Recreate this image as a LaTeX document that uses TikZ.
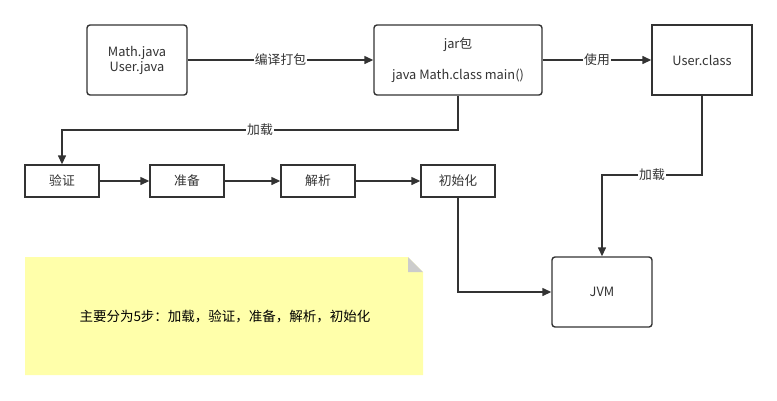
\documentclass[tikz,border=0pt]{standalone}
\usepackage{fontspec}
\setmainfont{Noto Sans CJK SC}
\usetikzlibrary{arrows.meta}
\definecolor{ln}{HTML}{333333}
\definecolor{notey}{HTML}{FFFFAA}
\definecolor{fold}{HTML}{CCCCCC}
\begin{document}
\begin{tikzpicture}[x=1pt,y=-1pt,
  every node/.style={font=\fontsize{12.8}{15}\selectfont, text=ln},
  rbox/.style={draw=ln, line width=1.4pt, rounded corners=3pt, fill=white, inner sep=0pt},
  sbox/.style={draw=ln, line width=1.4pt, fill=white, inner sep=0pt},
  conn/.style={draw=ln, line width=1.4pt, -{Triangle[length=9pt,width=8pt]}},
  lbl/.style={fill=white, inner sep=1pt, font=\fontsize{12.8}{14}\selectfont}]
\useasboundingbox (0,0) rectangle (777,400);
% note
\fill[notey] (25,257) -- (408,257) -- (423,272) -- (423,375) -- (25,375) -- cycle;
\fill[fold] (408,257) -- (423,272) -- (408,272) -- cycle;
\node[text=black, font=\fontsize{13.5}{14}\selectfont] (note) at (225,316) {主要分为5步：加载，验证，准备，解析，初始化};
% nodes
\node[rbox, minimum width=100pt, minimum height=70pt, align=center] (src) at (137,60) {Math.java\\User.java};
\node[rbox, minimum width=168pt, minimum height=70pt, align=center] (jar) at (458,60) {jar包\\[16pt]java Math.class main()};
\node[sbox, minimum width=100pt, minimum height=70pt] (user) at (702,60) {User.class};
\node[sbox, minimum width=74pt, minimum height=32pt] (v) at (62,181) {验证};
\node[sbox, minimum width=74pt, minimum height=32pt] (p) at (187,181) {准备};
\node[sbox, minimum width=74pt, minimum height=32pt] (r) at (318,181) {解析};
\node[sbox, minimum width=74pt, minimum height=32pt] (i) at (458,181) {初始化};
\node[rbox, minimum width=100pt, minimum height=70pt] (jvm) at (602,292) {JVM};
% connectors
\draw[conn] (src) -- node[lbl] {编译打包} (jar);
\draw[conn] (jar) -- node[lbl] {使用} (user);
\coordinate (a1) at (458,130);
\coordinate (a2) at (62,130);
\draw[conn] (jar.south) -- (a1) -- node[lbl, pos=0.5] {加载} (a2) -- (v.north);
\coordinate (b1) at (702,175);
\coordinate (b2) at (602,175);
\draw[conn] (user.south) -- (b1) -- node[lbl] {加载} (b2) -- (jvm.north);
\draw[conn] (v) -- (p);
\draw[conn] (p) -- (r);
\draw[conn] (r) -- (i);
\coordinate (c1) at (458,292);
\draw[conn] (i.south) -- (c1) -- (jvm.west);
\end{tikzpicture}
\end{document}
